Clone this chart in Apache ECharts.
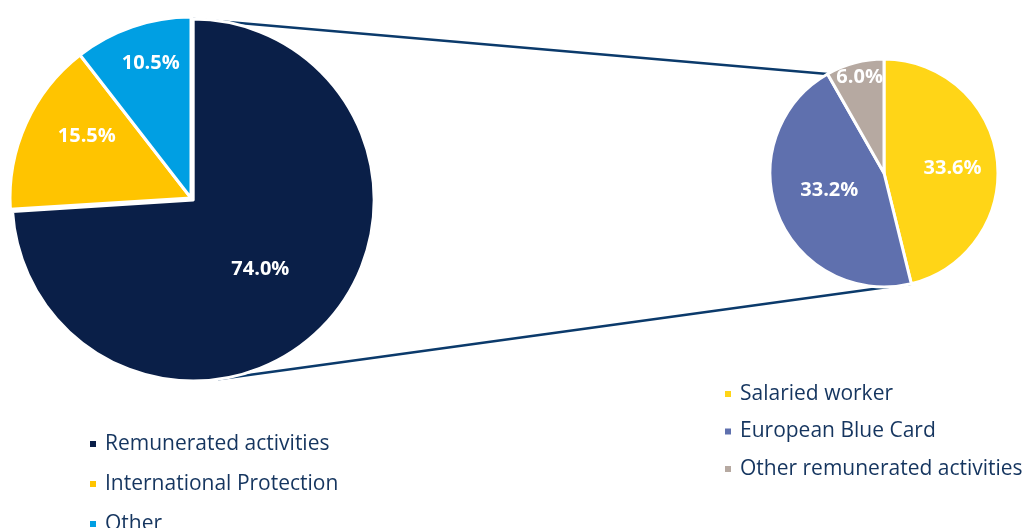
<!DOCTYPE html>
<html><head><meta charset="utf-8">
<script src="https://cdn.jsdelivr.net/npm/echarts@6/dist/echarts.min.js"></script>
<style>html,body{margin:0;padding:0;background:#fff}#c{width:1024px;height:528px}</style>
</head><body><div id="c"></div>
<script>
const LEFT_CATEGORIES = ['Remunerated activities', 'International Protection', 'Other'];
const LEFT_VALUES = [74.0, 15.5, 10.5];
const RIGHT_CATEGORIES = ['Salaried worker', 'European Blue Card', 'Other remunerated activities'];
const RIGHT_VALUES = [33.6, 33.2, 6.0];

const LEFT_COLORS = ['#0a1f48', '#ffc400', '#009fe3'];
const RIGHT_COLORS = ['#ffd517', '#5f70ae', '#b6a9a1'];

const L = { cx: 191, cy: 198, r: 181, off: 3 };
const R = { cx: 884, cy: 173, r: 114 };
const LEFT_LABEL_SHIFT = [[-1, 5], [-19, -23], [-10, -46]];
const RIGHT_LABEL_SHIFT = [[9, 3], [1, -5], [-9, -38]];

const chart = echarts.init(document.getElementById('c'), null, { renderer: 'canvas' });

function pt(cx, cy, r, deg) {
  const a = deg * Math.PI / 180;
  return [cx + r * Math.sin(a), cy - r * Math.cos(a)];
}
const sumL = LEFT_VALUES.reduce((a, b) => a + b, 0);
const sumR = RIGHT_VALUES.reduce((a, b) => a + b, 0);
const midL = 360 * LEFT_VALUES[0] / sumL / 2;
const navyC = pt(L.cx, L.cy, L.off, midL);
const topStart = pt(navyC[0], navyC[1], L.r, 0);
const topEnd = pt(R.cx, R.cy, R.r, 360 * (RIGHT_VALUES[0] + RIGHT_VALUES[1]) / sumR);
const botEnd = pt(R.cx, R.cy, R.r, 360 * RIGHT_VALUES[0] / sumR);
const vx = botEnd[0] - navyC[0], vy = botEnd[1] - navyC[1];
const d = Math.hypot(vx, vy);
const ang = Math.atan2(vy, vx) + Math.acos(L.r / d);
const botStart = [navyC[0] + L.r * Math.cos(ang), navyC[1] + L.r * Math.sin(ang)];

const labelStyle = { show: true, position: 'inside', color: '#fff', fontFamily: 'Open Sans', fontWeight: 'bold', fontSize: 20,
  formatter: p => p.value.toFixed(1) + '%' };
const legendText = { color: '#15355f', fontFamily: 'Open Sans', fontSize: 21, lineHeight: 22, padding: [0, 0, 0, 3] };

chart.setOption({
  animation: false,
  legend: [
    { data: LEFT_CATEGORIES, orient: 'vertical', left: 88, top: 433, height: 200, padding: 0,
      itemWidth: 8, itemHeight: 8, itemGap: 18,
      icon: 'rect', textStyle: legendText, selectedMode: false },
    { data: RIGHT_CATEGORIES, orient: 'vertical', left: 723, top: 383, height: 200, padding: 0,
      itemWidth: 8, itemHeight: 8, itemGap: 15.5,
      icon: 'rect', textStyle: legendText, selectedMode: false }
  ],
  graphic: [
    { type: 'line', z: 0, shape: { x1: topStart[0], y1: topStart[1], x2: topEnd[0], y2: topEnd[1] },
      style: { stroke: '#0b3a6b', lineWidth: 2.5 } },
    { type: 'line', z: 0, shape: { x1: botStart[0], y1: botStart[1], x2: botEnd[0], y2: botEnd[1] },
      style: { stroke: '#0b3a6b', lineWidth: 2.5 } }
  ],
  series: [
    { type: 'pie', z: 5, center: [L.cx, L.cy], radius: L.r, startAngle: 90, clockwise: true,
      selectedMode: 'single', selectedOffset: L.off, silent: true,
      itemStyle: { borderColor: '#fff', borderWidth: 3 },
      label: labelStyle, labelLine: { show: false },
      labelLayout: p => ({ dx: LEFT_LABEL_SHIFT[p.dataIndex][0], dy: LEFT_LABEL_SHIFT[p.dataIndex][1] }),
      emphasis: { disabled: true },
      data: LEFT_CATEGORIES.map((n, i) => ({ name: n, value: LEFT_VALUES[i], selected: i === 0,
        itemStyle: { color: LEFT_COLORS[i] } })) },
    { type: 'pie', z: 5, center: [R.cx, R.cy], radius: R.r, startAngle: 90, clockwise: true,
      selectedMode: false, silent: true,
      itemStyle: { borderColor: '#fff', borderWidth: 3 },
      label: labelStyle, labelLine: { show: false },
      labelLayout: p => ({ dx: RIGHT_LABEL_SHIFT[p.dataIndex][0], dy: RIGHT_LABEL_SHIFT[p.dataIndex][1] }),
      emphasis: { disabled: true },
      data: RIGHT_CATEGORIES.map((n, i) => ({ name: n, value: RIGHT_VALUES[i],
        itemStyle: { color: RIGHT_COLORS[i] } })) }
  ]
});
</script></body></html>
